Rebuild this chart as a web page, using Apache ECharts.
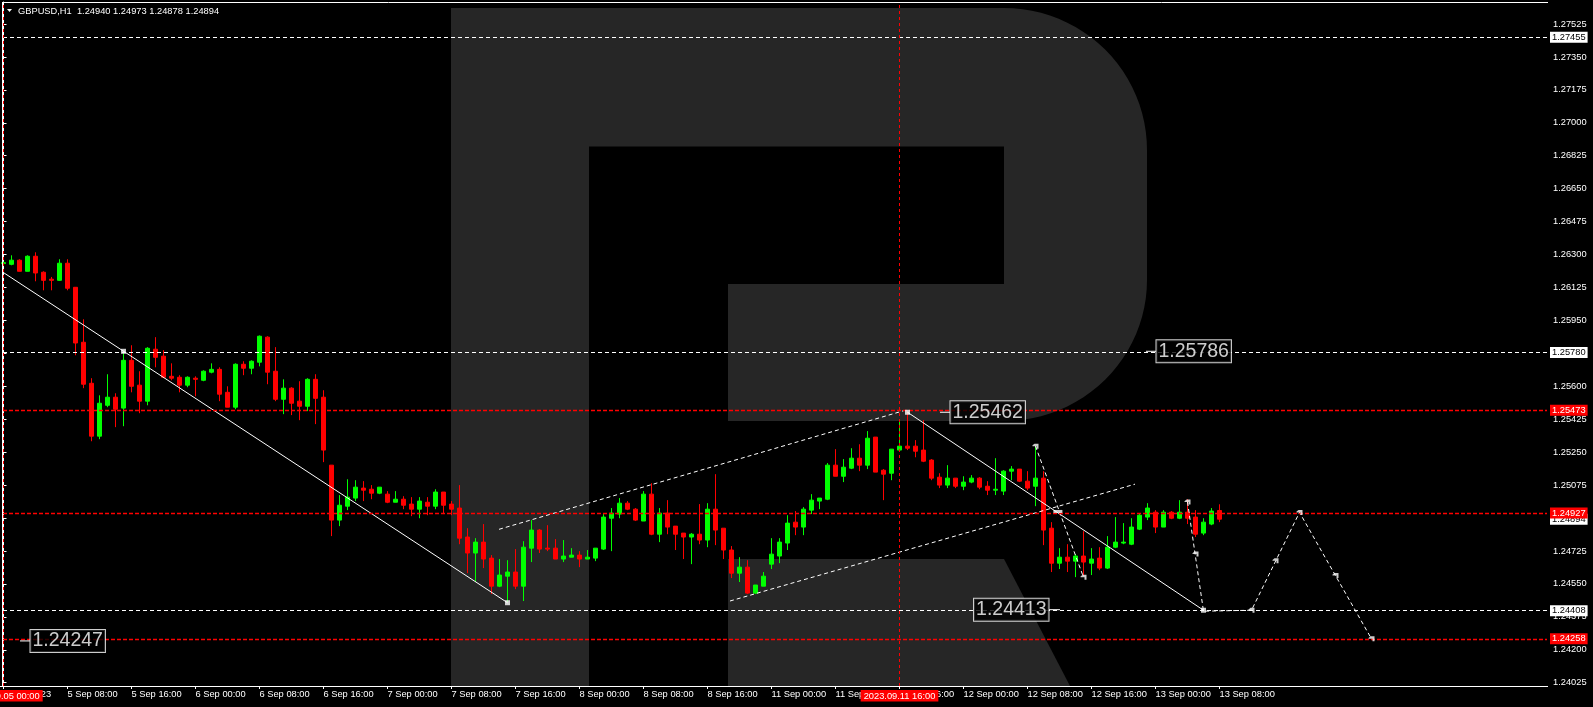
<!DOCTYPE html>
<html>
<head>
<meta charset="utf-8">
<script src="https://cdn.jsdelivr.net/npm/echarts@6/dist/echarts.min.js"></script>
<style>
html,body{margin:0;padding:0;background:#000;}
#c{width:1593px;height:707px;}
</style>
</head>
<body>
<div id="c"></div>
<script>
// ---------------- data ----------------
const symbolName = 'GBPUSD,H1';

// hourly bars, 5 Sep 2023 00:00 .. 13 Sep 2023 08:00 (weekend skipped)
// each bar: [open, close, low, high]
const candles = [
[1.26252,1.26257,1.26243,1.26262],[1.26248,1.26270,1.26243,1.26296],[1.26270,1.26211,1.26211,1.26275],[1.26211,1.26291,1.26211,1.26296],
[1.26291,1.26202,1.26158,1.26312],[1.26206,1.26163,1.26110,1.26211],[1.26169,1.26163,1.26110,1.26181],[1.26163,1.26254,1.26160,1.26275],
[1.26254,1.26121,1.26110,1.26275],[1.26126,1.25830,1.25765,1.26126],[1.25834,1.25611,1.25590,1.25956],[1.25616,1.25335,1.25308,1.25643],
[1.25335,1.25510,1.25319,1.25552],[1.25499,1.25542,1.25489,1.25664],[1.25542,1.25478,1.25383,1.25563],[1.25484,1.25738,1.25388,1.25776],
[1.25738,1.25600,1.25568,1.25818],[1.25606,1.25521,1.25457,1.25680],[1.25521,1.25802,1.25499,1.25808],[1.25797,1.25754,1.25701,1.25861],
[1.25760,1.25648,1.25643,1.25792],[1.25653,1.25643,1.25632,1.25722],[1.25648,1.25606,1.25568,1.25659],[1.25606,1.25648,1.25595,1.25653],
[1.25643,1.25637,1.25547,1.25653],[1.25632,1.25680,1.25627,1.25685],[1.25675,1.25690,1.25669,1.25722],[1.25690,1.25558,1.25521,1.25701],
[1.25568,1.25489,1.25489,1.25600],[1.25489,1.25717,1.25478,1.25722],[1.25717,1.25696,1.25659,1.25733],[1.25696,1.25733,1.25664,1.25738],
[1.25728,1.25866,1.25706,1.25870],[1.25861,1.25675,1.25611,1.25866],[1.25680,1.25531,1.25521,1.25808],[1.25531,1.25590,1.25452,1.25637],
[1.25590,1.25510,1.25447,1.25595],[1.25521,1.25494,1.25420,1.25627],[1.25494,1.25637,1.25468,1.25643],[1.25637,1.25536,1.25399,1.25664],
[1.25542,1.25261,1.25197,1.25579],[1.25181,1.24889,1.24804,1.25181],[1.24889,1.24968,1.24857,1.25022],[1.24963,1.25011,1.24942,1.25106],
[1.25006,1.25064,1.24990,1.25101],[1.25059,1.25048,1.24990,1.25096],[1.25053,1.25032,1.25000,1.25075],[1.25032,1.25064,1.25027,1.25064],
[1.25027,1.24984,1.24979,1.25043],[1.24984,1.25000,1.24984,1.25043],[1.25000,1.24968,1.24947,1.25016],[1.24974,1.24947,1.24910,1.25011],
[1.24947,1.24990,1.24899,1.25011],[1.24984,1.24963,1.24915,1.25011],[1.24963,1.25038,1.24947,1.25053],[1.25038,1.24968,1.24921,1.25038],
[1.24974,1.24947,1.24915,1.24990],[1.24953,1.24793,1.24761,1.25075],[1.24799,1.24714,1.24607,1.24846],[1.24714,1.24772,1.24560,1.24793],
[1.24772,1.24682,1.24634,1.24868],[1.24687,1.24538,1.24496,1.24703],[1.24538,1.24597,1.24533,1.24682],[1.24591,1.24613,1.24453,1.24676],
[1.24613,1.24538,1.24522,1.24735],[1.24538,1.24745,1.24459,1.24777],[1.24740,1.24836,1.24666,1.24889],[1.24836,1.24735,1.24714,1.24841],
[1.24740,1.24735,1.24724,1.24862],[1.24740,1.24682,1.24682,1.24788],[1.24682,1.24698,1.24666,1.24783],[1.24692,1.24703,1.24692,1.24740],
[1.24703,1.24682,1.24639,1.24724],[1.24682,1.24692,1.24682,1.24730],[1.24687,1.24740,1.24671,1.24740],[1.24735,1.24905,1.24730,1.24921],
[1.24899,1.24926,1.24724,1.24953],[1.24921,1.24979,1.24899,1.25006],[1.24979,1.24947,1.24942,1.24990],[1.24947,1.24889,1.24884,1.24953],
[1.24884,1.25027,1.24884,1.25043],[1.25027,1.24814,1.24809,1.25085],[1.24814,1.24926,1.24772,1.24953],[1.24926,1.24852,1.24814,1.24995],
[1.24857,1.24814,1.24730,1.24857],[1.24820,1.24799,1.24682,1.24820],[1.24799,1.24814,1.24655,1.24820],[1.24814,1.24783,1.24761,1.24974],
[1.24783,1.24947,1.24745,1.24979],[1.24947,1.24836,1.24756,1.25133],[1.24846,1.24730,1.24682,1.24846],[1.24730,1.24607,1.24581,1.24751],
[1.24607,1.24639,1.24560,1.24692],[1.24639,1.24501,1.24496,1.24676],[1.24501,1.24544,1.24496,1.24544],[1.24538,1.24591,1.24538,1.24613],
[1.24655,1.24708,1.24629,1.24793],[1.24698,1.24772,1.24660,1.24793],[1.24767,1.24873,1.24730,1.24915],[1.24878,1.24852,1.24809,1.24937],
[1.24852,1.24947,1.24809,1.24958],[1.24942,1.24995,1.24921,1.25027],[1.24990,1.25006,1.24947,1.25006],[1.25000,1.25181,1.24995,1.25192],
[1.25181,1.25122,1.25122,1.25266],[1.25122,1.25170,1.25091,1.25213],[1.25165,1.25218,1.25160,1.25271],[1.25218,1.25181,1.25149,1.25292],
[1.25181,1.25324,1.25160,1.25362],[1.25330,1.25144,1.25144,1.25330],[1.25154,1.25133,1.24995,1.25160],[1.25138,1.25266,1.25101,1.25266],
[1.25261,1.25282,1.25261,1.25420],[1.25282,1.25271,1.25261,1.25462],[1.25282,1.25255,1.25223,1.25314],[1.25261,1.25202,1.25197,1.25420],
[1.25208,1.25112,1.25101,1.25213],[1.25117,1.25075,1.25059,1.25138],[1.25075,1.25112,1.25059,1.25181],[1.25112,1.25069,1.25059,1.25112],
[1.25069,1.25091,1.25048,1.25122],[1.25091,1.25112,1.25085,1.25128],[1.25112,1.25064,1.25053,1.25117],[1.25069,1.25048,1.25022,1.25096],
[1.25048,1.25053,1.25022,1.25218],[1.25043,1.25149,1.25022,1.25154],[1.25149,1.25160,1.25101,1.25176],[1.25160,1.25096,1.25091,1.25160],
[1.25096,1.25059,1.25048,1.25149],[1.25069,1.25112,1.24963,1.25282],[1.25112,1.24836,1.24756,1.25149],[1.24846,1.24660,1.24613,1.24878],
[1.24660,1.24692,1.24629,1.24740],[1.24692,1.24671,1.24613,1.24761],[1.24671,1.24698,1.24586,1.24708],[1.24698,1.24666,1.24591,1.24830],
[1.24660,1.24682,1.24597,1.24740],[1.24687,1.24634,1.24623,1.24745],[1.24634,1.24745,1.24629,1.24804],[1.24745,1.24772,1.24740,1.24905],
[1.24767,1.24772,1.24761,1.24873],[1.24761,1.24852,1.24756,1.24899],[1.24841,1.24915,1.24836,1.24926],[1.24905,1.24953,1.24889,1.24979],
[1.24931,1.24852,1.24820,1.24942],[1.24852,1.24931,1.24852,1.24942],[1.24931,1.24899,1.24894,1.24937],[1.24899,1.24931,1.24894,1.24995],
[1.24931,1.24899,1.24868,1.25000],[1.24905,1.24814,1.24799,1.24942],[1.24820,1.24878,1.24809,1.24899],[1.24868,1.24937,1.24862,1.24953],
[1.24940,1.24894,1.24878,1.24973]
];

// time-axis labels, one every 8 bars starting at bar 0
const barsPerTimeTick = 8;
const timeTickLabels = ['5 Sep 2023','5 Sep 08:00','5 Sep 16:00','6 Sep 00:00','6 Sep 08:00','6 Sep 16:00',
  '7 Sep 00:00','7 Sep 08:00','7 Sep 16:00','8 Sep 00:00','8 Sep 08:00','8 Sep 16:00',
  '11 Sep 00:00','11 Sep 08:00','11 Sep 16:00','12 Sep 00:00','12 Sep 08:00','12 Sep 16:00',
  '13 Sep 00:00','13 Sep 08:00'];

// price-axis tick labels
const priceTicks = [1.24025,1.24200,1.24375,1.24550,1.24725,1.24900,1.25075,1.25250,1.25425,1.25600,
  1.25775,1.25950,1.26125,1.26300,1.26475,1.26650,1.26825,1.27000,1.27175,1.27350,1.27525];

// horizontal levels shown on the price scale
const levels = [
  {price: 1.27455, kind: 'white'},
  {price: 1.25780, kind: 'white'},
  {price: 1.25473, kind: 'red'},
  {price: 1.24894, kind: 'bid'},
  {price: 1.24927, kind: 'red'},
  {price: 1.24408, kind: 'white'},
  {price: 1.24258, kind: 'red'}
];

// vertical time markers [bar index, label]
const timeMarkers = [[0, '2023.09.05 00:00'], [112, '2023.09.11 16:00']];

// drawn analysis lines, points are [bar index, price]
const trendLine1 = [[0, 1.26204], [63, 1.24450]];
const trendLine2 = [[113, 1.25462], [150, 1.24410]];
const channelUpper = [[61.94, 1.24840], [112.5, 1.25470]];
const channelLower = [[90.81, 1.24459], [141.44, 1.25080]];
const forecastA = [[129, 1.25282], [135, 1.24585]];
const forecastB = [[148, 1.24985], [150, 1.24405], [156, 1.24410], [162, 1.24930], [171, 1.24258]];
const arrowMarks = [[129, 1.25282], [135, 1.24585], [148, 1.24985], [149, 1.24709], [156, 1.24410],
  [159, 1.24673], [162, 1.24930], [166.5, 1.24595], [171, 1.24258]];
const squareMarks = [[15, 1.25786], [63, 1.24450], [113, 1.25462], [150, 1.24410]];
const crossMarks = [[131.8, 1.24935]];

// price tags: text, price, connector from/to (bar index), side of label
const priceTags = [
  {text: '1.25462', price: 1.25462, from: 117.06, to: 118.31, side: 'right'},
  {text: '1.24413', price: 1.24413, from: 132.06, to: 130.69, side: 'left'},
  {text: '1.25786', price: 1.25786, from: 142.81, to: 144.06, side: 'right'},
  {text: '1.24247', price: 1.24247, from: 2.06, to: 3.31, side: 'right'}
];

// ---------------- chart ----------------
const FONT = '"Liberation Sans", Arial, sans-serif';
const BIGFONT = '"Liberation Sans", Arial, sans-serif';
const UP = '#00ff00', DOWN = '#ff0000', WHITE = '#ffffff', RED = '#ff0000';
const fmt = v => v.toFixed(5);

const chart = echarts.init(document.getElementById('c'), null, {renderer: 'canvas', width: 1593, height: 707});

const timeTickValues = timeTickLabels.map((_, k) => k * barsPerTimeTick);

const markLineData = [];
levels.forEach(l => {
  const isRed = l.kind === 'red';
  const isBid = l.kind === 'bid';
  markLineData.push({
    yAxis: l.price,
    lineStyle: {
      color: isBid ? 'rgba(0,0,0,0)' : (isRed ? RED : WHITE),
      type: isRed ? [4, 2] : [4, 3], width: isRed ? 1.3 : 1
    },
    label: {
      show: true, position: 'end', distance: 3, formatter: fmt(l.price),
      color: isRed ? '#fff' : '#000', backgroundColor: isRed ? RED : WHITE,
      padding: [1, 2, 0, 2], fontSize: 9.3, lineHeight: 10, fontFamily: FONT
    }
  });
});
timeMarkers.forEach(m => {
  markLineData.push({
    xAxis: m[0],
    lineStyle: {color: RED, type: [3, 3], width: 1},
    label: {
      show: true, position: 'start', distance: 4, formatter: m[1],
      color: '#fff', backgroundColor: RED, padding: [1, 3, 0, 3],
      fontSize: 9.3, lineHeight: 10.5, fontFamily: FONT
    }
  });
});

function lineSeries(data, dashed) {
  return {
    type: 'line', data: data, symbol: 'none', silent: true, z: 4, animation: false,
    lineStyle: {color: WHITE, width: 1, type: dashed ? [4, 3] : 'solid'}
  };
}

const series = [
  {
    type: 'candlestick', name: symbolName,
    data: candles.map((c, i) => [i, c[0], c[1], c[2], c[3]]),
    encode: {x: 0, y: [1, 2, 3, 4]},
    barWidth: 4, z: 3, silent: true,
    itemStyle: {color: UP, color0: DOWN, borderColor: UP, borderColor0: DOWN, borderWidth: 1},
    markLine: {silent: true, symbol: ['none', 'none'], animation: false, precision: 5, data: markLineData}
  },
  lineSeries(trendLine1, false),
  lineSeries(trendLine2, false),
  lineSeries(channelUpper, true),
  lineSeries(channelLower, true),
  lineSeries(forecastA, true),
  lineSeries(forecastB, true)
];
priceTags.forEach(t => {
  series.push({
    type: 'line', data: [[t.from, t.price], [t.to, t.price]], symbol: 'none', silent: true, z: 6,
    lineStyle: {color: WHITE, width: 1}
  });
});
series.push({
  type: 'scatter', data: arrowMarks, silent: true, z: 6,
  symbol: 'path://M0,2 L2,0 L6,0 L6,6 L4,6 L4,3 L0,3 Z', symbolSize: [6, 5],
  itemStyle: {color: WHITE}
});
series.push({
  type: 'scatter', data: squareMarks, silent: true, z: 6,
  symbol: 'rect', symbolSize: [5, 5], itemStyle: {color: WHITE}
});
series.push({
  type: 'scatter', data: crossMarks, silent: true, z: 6,
  symbol: 'rect', symbolSize: [9, 3], itemStyle: {color: WHITE}
});
series.push({
  type: 'scatter', silent: true, z: 7, symbol: 'circle', symbolSize: 1,
  itemStyle: {color: 'rgba(0,0,0,0)'},
  data: priceTags.map(t => ({
    value: [t.to, t.price],
    label: {
      show: true, position: t.side, distance: 0, formatter: t.text,
      color: WHITE, fontSize: 19.5, lineHeight: 21, fontFamily: BIGFONT,
      backgroundColor: '#000', borderColor: WHITE, borderWidth: 1, padding: [1, 2, 0, 2]
    }
  }))
});

// watermark "R" outline (decoration)
function arcPts(cx, cy, rx, ry, a0, a1, n) {
  const p = [];
  for (let k = 0; k <= n; k++) {
    const a = (a0 + (a1 - a0) * k / n) * Math.PI / 180;
    p.push([cx + rx * Math.cos(a), cy + ry * Math.sin(a)]);
  }
  return p;
}
const bowl = [[451, 8], [1004, 8]]
  .concat(arcPts(1004, 150, 143, 142, -90, 0, 24))
  .concat(arcPts(1004, 280, 143, 141, 0, 90, 24))
  .concat([[728, 421], [728, 284], [1004, 284], [1004, 146.5], [589, 146.5], [589, 686], [451, 686]]);
const leg = [[728, 559], [1004, 559], [1070, 686], [728, 686]];

const last = candles[candles.length - 1];
const headerText = symbolName + '  ' + fmt(last[0]) + ' ' + fmt(last[3]) + ' ' + fmt(last[2]) + ' ' + fmt(last[1]);

const option = {
  backgroundColor: '#000',
  animation: false,
  grid: {left: 3, right: 46, top: 2, bottom: 21, containLabel: false},
  xAxis: {
    type: 'value', min: -0.0625, max: 192.9375,
    splitLine: {show: false},
    axisLine: {show: false},
    axisTick: {show: true, length: 3, lineStyle: {color: WHITE}, customValues: timeTickValues},
    axisLabel: {
      show: true, customValues: timeTickValues,
      formatter: v => timeTickLabels[Math.round(v / barsPerTimeTick)] || '',
      color: WHITE, fontSize: 9.3, fontFamily: FONT, align: 'left', margin: 4
    }
  },
  yAxis: {
    type: 'value', position: 'right', min: 1.240075, max: 1.276419, scale: true,
    splitLine: {show: false},
    axisLine: {show: true, lineStyle: {color: WHITE, width: 1}},
    axisTick: {show: true, length: 3, lineStyle: {color: WHITE}, customValues: priceTicks},
    axisLabel: {
      show: true, customValues: priceTicks, formatter: v => fmt(v),
      color: WHITE, fontSize: 9.3, fontFamily: FONT, margin: 6
    }
  },
  graphic: [
    {type: 'polygon', shape: {points: bowl}, style: {fill: '#262626'}, z: -10, silent: true},
    {type: 'polygon', shape: {points: leg}, style: {fill: '#262626'}, z: -10, silent: true},
    {type: 'line', shape: {x1: 2.5, y1: 2, x2: 2.5, y2: 686}, style: {stroke: WHITE, lineWidth: 1}, z: 10, silent: true},
    {type: 'line', shape: {x1: 2, y1: 2.5, x2: 1548, y2: 2.5}, style: {stroke: WHITE, lineWidth: 1}, z: 10, silent: true},
    {type: 'line', shape: {x1: 0, y1: 686.5, x2: 1548, y2: 686.5}, style: {stroke: WHITE, lineWidth: 1}, z: 10, silent: true},
    {type: 'polygon', shape: {points: [[7, 9], [12, 9], [9.5, 12]]}, style: {fill: WHITE}, z: 10, silent: true},
    {type: 'text', x: 18, y: 11, z: 10, silent: true,
     style: {text: headerText, fill: WHITE, font: '9.3px "Liberation Sans", Arial, sans-serif', align: 'left', verticalAlign: 'middle'}}
  ],
  series: series
};
chart.setOption(option);
</script>
</body>
</html>
